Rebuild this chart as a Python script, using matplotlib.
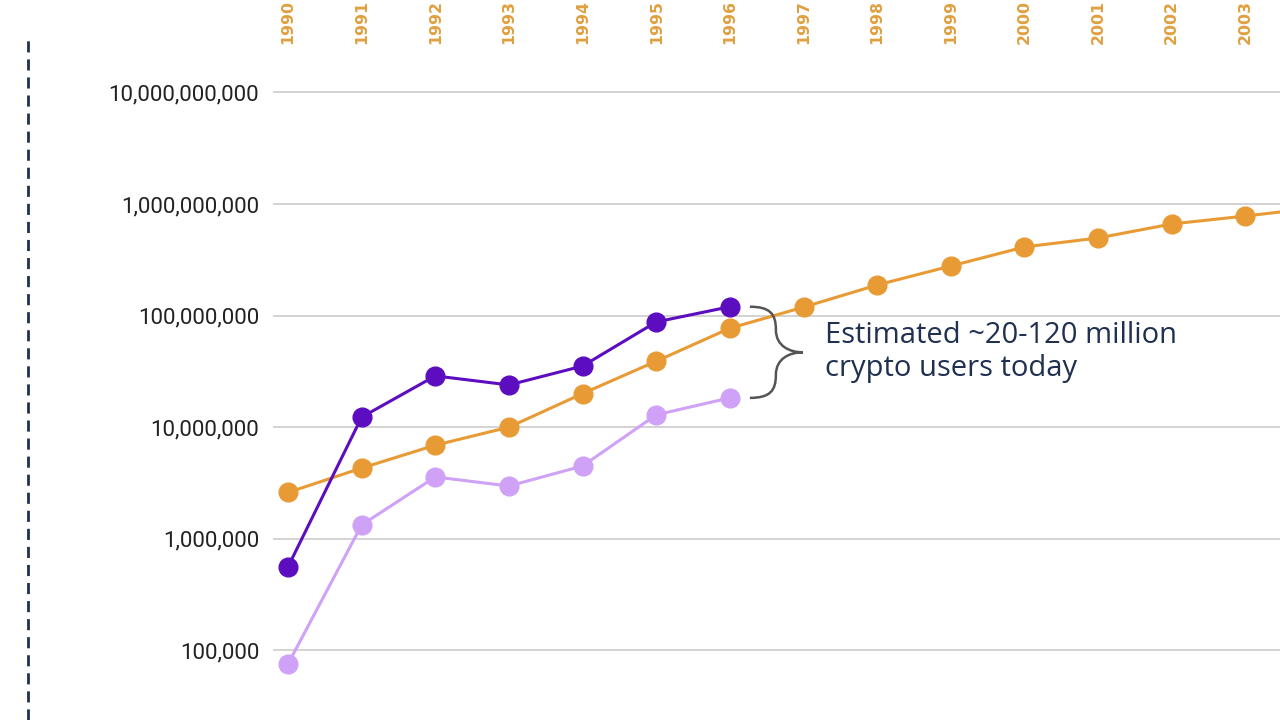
import matplotlib
matplotlib.use("Agg")
from matplotlib import pyplot as plt
from matplotlib.lines import Line2D
from matplotlib.path import Path
from matplotlib.patches import PathPatch
from matplotlib.ticker import FixedLocator, FuncFormatter

# internet users (orange), crypto users high / low estimate (purples)
years = list(range(1990, 2005))
internet_users = [2.6e6, 4.3e6, 6.9e6, 1.0e7, 2.0e7, 3.9e7, 7.7e7, 1.19e8,
                  1.88e8, 2.78e8, 4.12e8, 4.96e8, 6.62e8, 7.8e8, 9.3e8]
crypto_years = list(range(1990, 1997))
crypto_high = [5.6e5, 1.23e7, 2.88e7, 2.39e7, 3.53e7, 8.77e7, 1.2e8]
crypto_low = [7.55e4, 1.33e6, 3.58e6, 2.97e6, 4.49e6, 1.29e7, 1.83e7]
year_labels = [str(y) for y in range(1990, 2004)]
y_ticks = [1e5, 1e6, 1e7, 1e8, 1e9, 1e10]
note = "Estimated ~20-120 million\ncrypto users today"

ORANGE = '#E89B35'
DARK = '#5B0DBF'
LIGHT = '#CFA2F7'
NAVY = '#1F3050'

fig = plt.figure(figsize=(12.8, 7.2), dpi=100)
ax = fig.add_axes([273/1280, 0, 1 - 273/1280, 1 - 55/720])

ax.plot(years, internet_users, color=ORANGE, lw=2.2, marker='o', ms=13.5, zorder=3)
ax.plot(crypto_years, crypto_high, color=DARK, lw=2.2, marker='o', ms=13.5, zorder=4)
ax.plot(crypto_years, crypto_low, color=LIGHT, lw=2.2, marker='o', ms=13.5, zorder=4)

ax.set_yscale('log')
ax.set_xlim(1989.796, 2003.47)
ax.set_ylim(10**4.376, 10**10.335)

ax.yaxis.set_major_locator(FixedLocator(y_ticks))
ax.yaxis.set_minor_locator(FixedLocator([]))
ax.yaxis.set_major_formatter(FuncFormatter(lambda v, p: "{:,.0f}".format(v)))
ax.grid(True, axis='y', color='#CCCCCC', lw=1.2)
ax.tick_params(axis='y', length=0, pad=10, labelsize=16, labelcolor='#222222')
for t in ax.get_yticklabels():
    t.set_fontfamily('Roboto')

ax.xaxis.tick_top()
ax.set_xticks(range(1990, 2004))
ax.set_xticklabels(year_labels, rotation=90)
ax.tick_params(axis='x', length=0, pad=8, labelsize=11.3, labelcolor='#E0A040')
for t in ax.get_xticklabels():
    t.set_fontfamily('DejaVu Sans')
    t.set_fontweight('bold')
for s in ax.spines.values():
    s.set_visible(False)

# curly brace between the two crypto estimates for 1996
fig.canvas.draw()
x0, ytop = ax.transData.transform((crypto_years[-1], crypto_high[-1]))
_, ybot = ax.transData.transform((crypto_years[-1], crypto_low[-1]))
x0 += 20
ymid = (ytop + ybot) / 2
w = 53
verts = [(x0, ytop),
         (x0 + 20, ytop), (x0 + 26, ytop - 7), (x0 + 26, ytop - 23),
         (x0 + 26, ymid + 6), (x0 + 40, ymid), (x0 + w, ymid),
         (x0 + 40, ymid), (x0 + 26, ymid - 6), (x0 + 26, ybot + 23),
         (x0 + 26, ybot + 7), (x0 + 20, ybot), (x0, ybot)]
codes = [Path.MOVETO] + [Path.CURVE4] * 12
brace = PathPatch(Path(verts, codes), transform=None, fill=False,
                  edgecolor='#555555', lw=1.8, zorder=5)
brace.set_clip_on(False)
fig.add_artist(brace)

fig.text(825/1280, 1 - 352/720, note, fontsize=21, color=NAVY,
         family='Open Sans', va='center', ha='left', linespacing=1.2)

# dashed divider on the left
fig.add_artist(Line2D([28/1280, 28/1280], [0, 1 - 35/720], color=NAVY, lw=2,
                      linestyle=(0, (4, 2.5))))

fig.savefig('out.png', dpi=100)
